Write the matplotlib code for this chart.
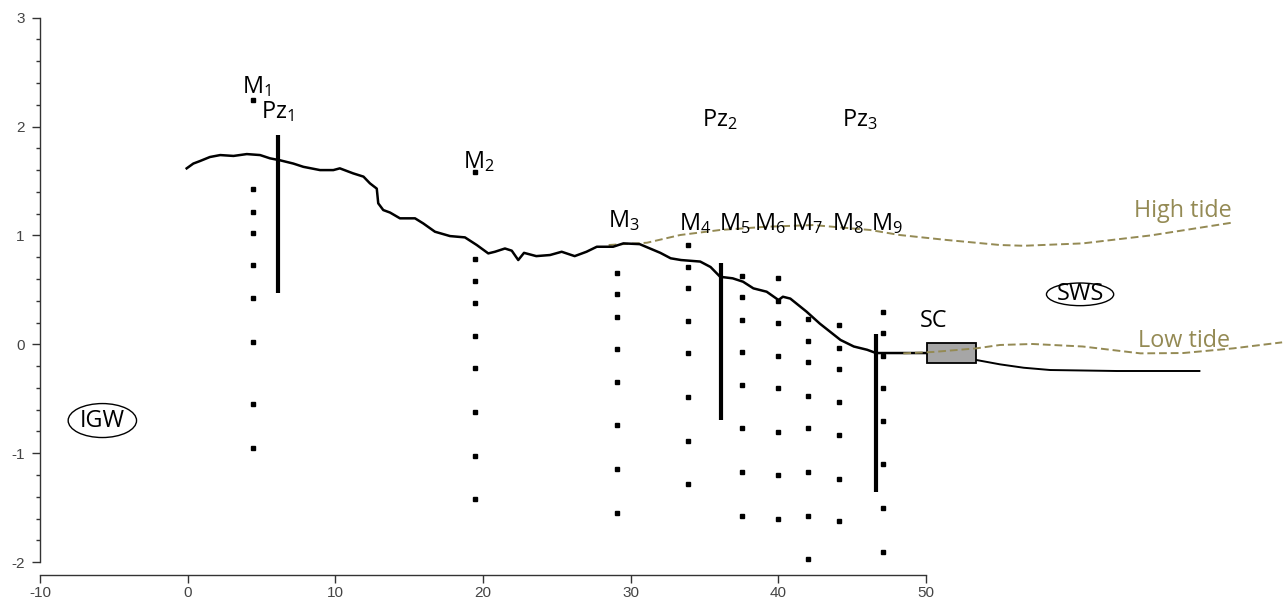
import matplotlib.pyplot as plt
from matplotlib.patches import Ellipse, Rectangle

plt.rcParams['font.family'] = ['Open Sans', 'DejaVu Sans']
plt.rcParams['mathtext.default'] = 'regular'
plt.rcParams['axes.unicode_minus'] = False

# ground surface profile (m)
surf_x = [-0.07, 0.38, 0.83, 1.5, 2.2, 3.1, 4.0, 4.9, 5.57, 6.25, 7.15, 7.83, 8.96, 9.86,
          10.3, 11.2, 11.9, 12.34, 12.8, 12.9, 13.24, 13.7, 14.37, 15.39, 15.95, 16.74,
          17.76, 18.77, 19.57, 20.35, 20.8, 21.48, 21.94, 22.38, 22.77, 23.6, 24.53, 25.32,
          26.2, 27.0, 27.7, 28.8, 29.5, 30.6, 31.3, 32.0, 32.7, 33.4, 34.7, 35.4, 36.05,
          36.9, 37.6, 38.3, 39.2, 40.0, 40.3, 40.8, 41.9, 42.8, 44.2, 45.1, 46.0, 46.6, 50.0]
surf_y = [1.616, 1.66, 1.683, 1.72, 1.738, 1.73, 1.747, 1.738, 1.708, 1.69, 1.66, 1.63, 1.60, 1.60,
          1.616, 1.57, 1.54, 1.478, 1.43, 1.295, 1.233, 1.21, 1.157, 1.157, 1.11, 1.034,
          0.994, 0.982, 0.912, 0.835, 0.85, 0.88, 0.86, 0.774, 0.84, 0.81, 0.82, 0.85,
          0.81, 0.85, 0.896, 0.896, 0.927, 0.92, 0.88, 0.84, 0.79, 0.774, 0.76, 0.71, 0.62,
          0.606, 0.575, 0.514, 0.483, 0.407, 0.437, 0.42, 0.30, 0.19, 0.04, -0.02, -0.05, -0.08, -0.08]

# seabed beyond the sea wall
sea_x = [53.4, 55.0, 56.6, 58.4, 62.9, 68.5]
sea_y = [-0.144, -0.184, -0.215, -0.236, -0.245, -0.245]

# tide levels
high_x = [28.5, 31.1, 33.35, 36.05, 39.2, 42.36, 46.2, 48.2, 51.4, 55.0, 56.6, 60.6, 65.2, 70.7]
high_y = [0.912, 0.933, 1.004, 1.05, 1.08, 1.095, 1.05, 1.004, 0.958, 0.912, 0.905, 0.927, 1.0, 1.117]
low_x = [48.45, 50.5, 53.4, 55.0, 57.2, 60.6, 64.5, 67.4, 70.8, 74.1]
low_y = [-0.083, -0.07, -0.037, -0.006, 0.003, -0.02, -0.083, -0.08, -0.037, 0.018]

# multilevel sampler columns
well_x = [4.44, 19.43, 29.09, 33.9, 37.5, 39.95, 42.02, 44.1, 47.05]
well_z = [
    [2.243, 1.426, 1.218, 1.019, 0.728, 0.428, 0.018, -0.545, -0.95],
    [1.585, 0.783, 0.581, 0.376, 0.079, -0.215, -0.619, -1.023, -1.418],
    [0.652, 0.459, 0.254, -0.043, -0.349, -0.741, -1.148, -1.552],
    [0.912, 0.713, 0.52, 0.214, -0.083, -0.487, -0.891, -1.283],
    [0.63, 0.43, 0.223, -0.068, -0.374, -0.766, -1.173, -1.577],
    [0.606, 0.398, 0.198, -0.105, -0.399, -0.805, -1.197, -1.601],
    [0.23, 0.03, -0.165, -0.475, -0.769, -1.173, -1.577, -1.969],
    [0.177, -0.031, -0.23, -0.533, -0.83, -1.234, -1.625],
    [0.30, 0.10, -0.105, -0.399, -0.704, -1.099, -1.503, -1.907],
]

# piezometers
pz_x = [6.13, 36.1, 46.58]
pz_top = [1.92, 0.744, 0.092]
pz_bot = [0.474, -0.695, -1.353]

# sea wall culvert box
sc_x0, sc_x1 = 50.03, 53.4
sc_y0, sc_y1 = -0.174, 0.009

olive = '#948a54'

fig = plt.figure(figsize=(12.83, 6.0), dpi=100)
ax = fig.add_axes([0, 0, 1, 1])
ax.set_xlim(-12.71, 74.16)
ax.set_ylim(-2.348, 3.162)

ax.plot(high_x, high_y, color=olive, lw=1.4, ls=(0, (4, 2)), zorder=2)
ax.plot(surf_x, surf_y, color='black', lw=1.8, zorder=3)
ax.plot(sea_x, sea_y, color='black', lw=1.4, zorder=3)
ax.add_patch(Rectangle((sc_x0, sc_y0), sc_x1 - sc_x0, sc_y1 - sc_y0,
                       facecolor='#a6a6a6', edgecolor='black', lw=1.3, zorder=4))
ax.plot(low_x, low_y, color=olive, lw=1.4, ls=(0, (4, 2)), zorder=5)

for x, zs in zip(well_x, well_z):
    ax.plot([x] * len(zs), zs, ls='none', marker='s', ms=2.8, color='black', zorder=4)

ax.vlines(pz_x, pz_bot, pz_top, color='black', lw=3, zorder=4)

# labels
fs = 16.8
labels = [
    ('M$_1$', 3.69, 2.31), ('Pz$_1$', 4.96, 2.075), ('M$_2$', 18.62, 1.62),
    ('Pz$_2$', 34.8, 2.0), ('Pz$_3$', 44.28, 2.0), ('M$_3$', 28.43, 1.08),
    ('M$_4$', 33.26, 1.05), ('M$_5$', 35.99, 1.05), ('M$_6$', 38.36, 1.05),
    ('M$_7$', 40.85, 1.05), ('M$_8$', 43.64, 1.05), ('M$_9$', 46.26, 1.05),
    ('SC', 49.6, 0.162),
]
for txt, x, y in labels:
    ax.text(x, y, txt, fontsize=fs, ha='left', va='baseline', zorder=6)
ax.text(64.07, 1.166, 'High tide', fontsize=fs, color=olive, ha='left', va='baseline')
ax.text(64.36, -0.022, 'Low tide', fontsize=fs, color=olive, ha='left', va='baseline')

ax.add_patch(Ellipse((60.42, 0.459), 4.55, 0.208, fill=False, lw=1.0, edgecolor='black'))
ax.text(60.42, 0.459, 'SWS', fontsize=fs, ha='center', va='center')
ax.add_patch(Ellipse((-5.78, -0.70), 4.63, 0.312, fill=False, lw=1.0, edgecolor='black'))
ax.text(-5.78, -0.70, 'IGW', fontsize=fs, ha='center', va='center')

# detached axes
for s in ['top', 'right']:
    ax.spines[s].set_visible(False)
ax.spines['left'].set_position(('data', -10))
ax.spines['left'].set_bounds(-2, 3)
ax.spines['bottom'].set_position(('data', -2.118))
ax.spines['bottom'].set_bounds(-10, 50)
for s in ['left', 'bottom']:
    ax.spines[s].set_color('#333333')
    ax.spines[s].set_linewidth(1.0)

ax.set_xticks(range(-10, 51, 10))
ax.set_yticks(range(-2, 4))
ax.set_yticks([v / 10 for v in range(-20, 31, 2)], minor=True)
ax.tick_params(axis='both', which='major', colors='#333333', labelcolor='#444444',
               labelsize=11, length=6, width=1.0, labelfontfamily='Liberation Sans')
ax.tick_params(axis='y', which='minor', colors='#333333', length=3, width=1.0)
ax.tick_params(axis='y', pad=5)
ax.tick_params(axis='x', pad=2)

fig.savefig('out.png', dpi=100)
